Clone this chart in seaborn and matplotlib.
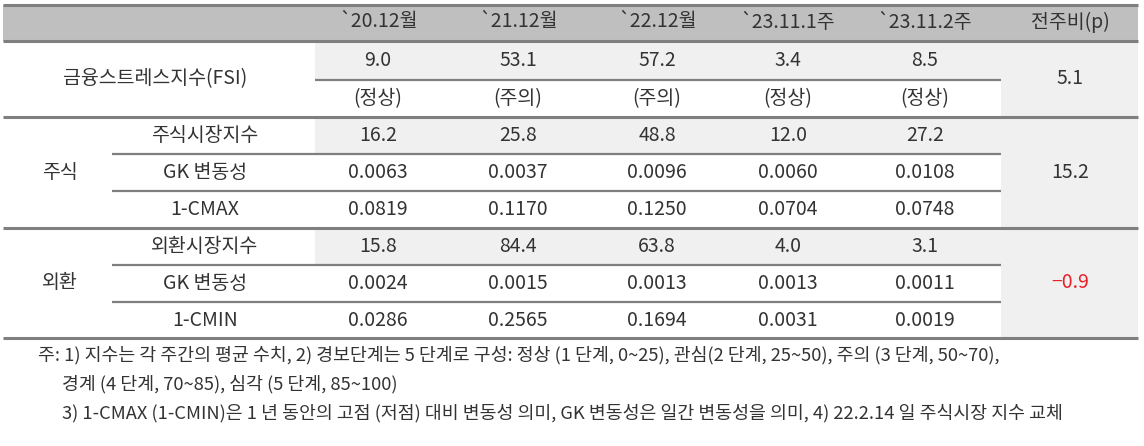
import matplotlib.pyplot as plt
import seaborn as sns

COLUMNS = ["`20.12월", "`21.12월", "`22.12월", "`23.11.1주", "`23.11.2주", "전주비(p)"]
FSI_VALUES = ["9.0", "53.1", "57.2", "3.4", "8.5"]
FSI_STATES = ["(정상)", "(주의)", "(주의)", "(정상)", "(정상)"]
FSI_CHANGE = "5.1"
STOCK_ROWS = ["주식시장지수", "GK 변동성", "1-CMAX"]
STOCK_VALUES = [
    ["16.2", "25.8", "48.8", "12.0", "27.2"],
    ["0.0063", "0.0037", "0.0096", "0.0060", "0.0108"],
    ["0.0819", "0.1170", "0.1250", "0.0704", "0.0748"],
]
STOCK_CHANGE = "15.2"
FX_ROWS = ["외환시장지수", "GK 변동성", "1-CMIN"]
FX_VALUES = [
    ["15.8", "84.4", "63.8", "4.0", "3.1"],
    ["0.0024", "0.0015", "0.0013", "0.0013", "0.0011"],
    ["0.0286", "0.2565", "0.1694", "0.0031", "0.0019"],
]
FX_CHANGE = "-0.9"
NOTES = [
    "주: 1) 지수는 각 주간의 평균 수치, 2) 경보단계는 5 단계로 구성: 정상 (1 단계, 0~25), 관심(2 단계, 25~50), 주의 (3 단계, 50~70),",
    "경계 (4 단계, 70~85), 심각 (5 단계, 85~100)",
    "3) 1-CMAX (1-CMIN)은 1 년 동안의 고점 (저점) 대비 변동성 의미, GK 변동성은 일간 변동성을 의미, 4) 22.2.14 일 주식시장 지수 교체",
]

sns.set_theme(style="white")
plt.rcParams["font.family"] = ["Noto Sans CJK KR", "DejaVu Sans"]

X0, X1 = 3, 1138
XSUB, XDATA, XLAST = 112, 315, 1001
CENTERS = [378, 518, 657, 788, 925, 1070]
TXT = "#333333"
LINE = "#7f7f7f"
FS = 14
NFS = 13.2

fig = plt.figure(figsize=(11.44, 4.46), dpi=100)
ax = fig.add_axes([0, 0, 1, 1])
ax.set_xlim(0, 1144)
ax.set_ylim(446, 0)
ax.axis("off")


def rect(x0, x1, y0, y1, color):
    ax.fill_between([x0, x1], y0, y1, color=color, lw=0, zorder=0)


def hline(y, x0, x1, lw=1.6):
    ax.plot([x0, x1], [y, y], color=LINE, lw=lw, zorder=2, solid_capstyle="butt")


def txt(x, y, s, color=TXT, size=FS):
    ax.text(x, y, s, ha="center", va="center", fontsize=size, color=color)


# header
rect(X0, X1, 5, 41, "#bfbfbf")
for c, name in zip(CENTERS, COLUMNS):
    txt(c, 22, name)
rect(XLAST, X1, 41, 338, "#f0f0f0")

# FSI
rect(XDATA, XLAST, 41, 80, "#f0f0f0")
txt(155, 79, "금융스트레스지수(FSI)")
for c, v, s in zip(CENTERS, FSI_VALUES, FSI_STATES):
    txt(c, 60, v)
    txt(c, 99, s)
txt(CENTERS[5], 79, FSI_CHANGE)
hline(80, XDATA, XLAST)


def section(y0, group, rows, values, change, ccolor):
    rect(XDATA, XLAST, y0, y0 + 37, "#f0f0f0")
    txt(60, y0 + 55, group)
    for i, (r, vals) in enumerate(zip(rows, values)):
        yc = y0 + 18.5 + 37 * i
        txt(205, yc, r)
        for c, v in zip(CENTERS, vals):
            txt(c, yc, v)
        if i > 0:
            hline(y0 + 37 * i, XSUB, XLAST)
    txt(CENTERS[5], y0 + 55, change.replace("-", "−"), color=ccolor)


section(117, "주식", STOCK_ROWS, STOCK_VALUES, STOCK_CHANGE, TXT)
section(228, "외환", FX_ROWS, FX_VALUES, FX_CHANGE, "#e8202a")

for y in (5, 41, 117, 228, 338):
    hline(y, X0, X1, lw=2.2)

# notes
ax.text(38, 355, NOTES[0], ha="left", va="center", fontsize=NFS, color=TXT)
ax.text(62, 384, NOTES[1], ha="left", va="center", fontsize=NFS, color=TXT)
ax.text(62, 413, NOTES[2], ha="left", va="center", fontsize=NFS, color=TXT)

fig.savefig("out.png", dpi=100)
